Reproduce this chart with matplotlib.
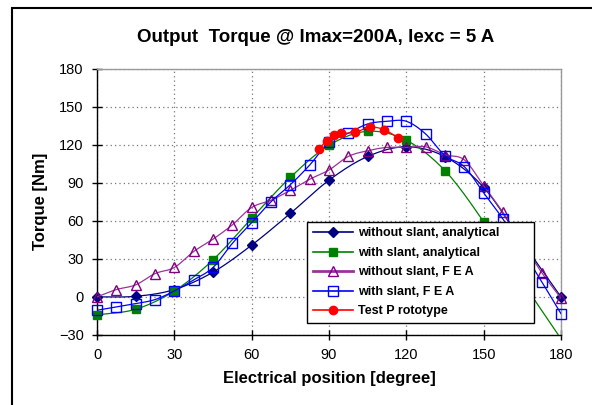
import numpy as np
import matplotlib
matplotlib.use("Agg")
import matplotlib.pyplot as plt
from matplotlib.patches import Rectangle

# ---- data ----
x15 = [0, 15, 30, 45, 60, 75, 90, 105, 120, 135, 150, 165, 180]
x7 = [0, 7.5, 15, 22.5, 30, 37.5, 45, 52.5, 60, 67.5, 75, 82.5, 90, 97.5, 105,
      112.5, 120, 127.5, 135, 142.5, 150, 157.5, 165, 172.5, 180]
noslant_analytical = [0, 0.5, 5.8, 19.5, 40.8, 65.8, 92, 110.7, 118.3, 110.5, 86.3, 43, 0]
slant_analytical = [-14.2, -9.7, 4.7, 29.2, 62, 94.2, 119.5, 130.5, 123.4, 99.5, 59.2, 12, -33]
noslant_fea = [0, 5.8, 9.5, 18.4, 23.2, 35.8, 45.5, 56.8, 70.5, 76.2, 84, 92.7, 100,
               110.7, 115.2, 117.8, 117.8, 118.3, 112, 108, 87.6, 66.6, 43, 19.2, -1]
slant_fea = [-10.5, -7.9, -5.3, -2.1, 4.7, 13.4, 23.2, 42.2, 58.4, 75, 88.4, 103.9, 121.8,
             129, 136.3, 138.4, 138.4, 128.4, 111.3, 102.6, 82, 61.3, 37, 12.1, -13.2]
proto_x = [86.1, 89.1, 91.9, 94.6, 100.1, 105.9, 111.4, 116.9]
proto_y = [116.6, 123.2, 127.9, 128.9, 129.7, 133.7, 131.8, 125.3]

labels = ["without slant, analytical", "with slant, analytical",
          "without slant, F E A", "with slant, F E A", "Test P rototype"]
title = "Output  Torque @ Imax=200A, Iexc = 5 A"
xticks = [0, 30, 60, 90, 120, 150, 180]
yticks = [-30, 0, 30, 60, 90, 120, 150, 180]
YMIN, YMAX = -30, 180


def smooth(xs, ys, n=12):
    """Catmull-Rom rendering of a polyline (line style only)."""
    p = np.column_stack([xs, ys]).astype(float)
    p = np.vstack([p[0] * 2 - p[1], p, p[-1] * 2 - p[-2]])
    out = []
    t = np.linspace(0, 1, n, endpoint=False)[:, None]
    for i in range(1, len(p) - 2):
        p0, p1, p2, p3 = p[i - 1], p[i], p[i + 1], p[i + 2]
        seg = 0.5 * ((2 * p1) + (-p0 + p2) * t + (2 * p0 - 5 * p1 + 4 * p2 - p3) * t ** 2
                     + (-p0 + 3 * p1 - 3 * p2 + p3) * t ** 3)
        out.append(seg)
    out.append(p[-2][None, :])
    out = np.vstack(out)
    return out[:, 0], out[:, 1]


plt.rcParams['font.family'] = ['Liberation Sans', 'DejaVu Sans']
fig = plt.figure(figsize=(5.92, 4.05), dpi=100)
fig.patches.append(Rectangle((12 / 592, -0.2), 1.5, 1.2 - 8 / 405, transform=fig.transFigure,
                             fill=False, edgecolor='black', linewidth=1.5))
ax = fig.add_axes([97 / 592, 1 - 335 / 405, 464 / 592, 266.5 / 405])

series = [
    (x15, noslant_analytical, '#000080', '#000080', 'D', 5.5, 'full'),
    (x15, slant_analytical, '#008000', '#008000', 's', 6, 'full'),
    (x7, noslant_fea, '#993399', '#800080', '^', 7.5, 'none'),
    (x7, slant_fea, '#0000FF', '#0000FF', 's', 7.5, 'none'),
    (proto_x, proto_y, '#FF0000', '#FF0000', 'o', 6, 'full'),
]
handles = []
for i, (xs, ys, lc, mc, mk, ms, fill) in enumerate(series):
    sx, sy = smooth(xs, ys)
    ax.plot(sx, sy, color=lc, linewidth=0.9, zorder=3 + i, clip_on=True)
    mfc = mc if fill == 'full' else 'none'
    xa, ya = np.asarray(xs, float), np.asarray(ys, float)
    vis = (ya >= YMIN) & (ya <= YMAX)
    ax.plot(xa[vis], ya[vis], linestyle='none', marker=mk, markersize=ms,
            markerfacecolor=mfc, markeredgecolor=mc, markeredgewidth=1.0,
            zorder=3 + i, clip_on=False)
    h, = ax.plot([], [], color=lc, linewidth=1.2 if i != 2 else 2.0, marker=mk,
                 markersize=ms, markerfacecolor=mfc, markeredgecolor=mc,
                 markeredgewidth=1.0)
    handles.append(h)

ax.set_xlim(0, 180)
ax.set_ylim(YMIN, YMAX)
ax.set_xticks(xticks)
ax.set_yticks(yticks)
ax.tick_params(direction='inout', length=7, width=1, labelsize=10.5, pad=6)
ax.grid(True, linestyle=(0, (1, 2.5)), color='#777777', linewidth=0.9)
for s in ['top', 'right']:
    ax.spines[s].set_color('#999999')
    ax.spines[s].set_linewidth(1.0)
for s in ['left', 'bottom']:
    ax.spines[s].set_color('black')
    ax.spines[s].set_linewidth(1.0)

ax.set_xlabel("Electrical position [degree]", fontsize=12, fontweight='bold', labelpad=6)
ax.set_ylabel("Torque [Nm]", fontsize=12, fontweight='bold', labelpad=8)
fig.text(316 / 592, 1 - 37 / 405, title, fontsize=13.5, fontweight='bold',
         ha='center', va='center')

leg = ax.legend(handles, labels, loc='lower left',
                bbox_to_anchor=(210 / 464, 12 / 266.5, 227 / 464, 100 / 266.5),
                mode='expand', frameon=True, fancybox=False, framealpha=1.0,
                handlelength=3.2, prop={'weight': 'bold', 'size': 9}, borderpad=0.45,
                labelspacing=0.6, handletextpad=0.4, borderaxespad=0)
leg.get_frame().set_edgecolor('black')
leg.get_frame().set_linewidth(1.0)
leg.set_zorder(20)

fig.savefig("out.png", dpi=100)
